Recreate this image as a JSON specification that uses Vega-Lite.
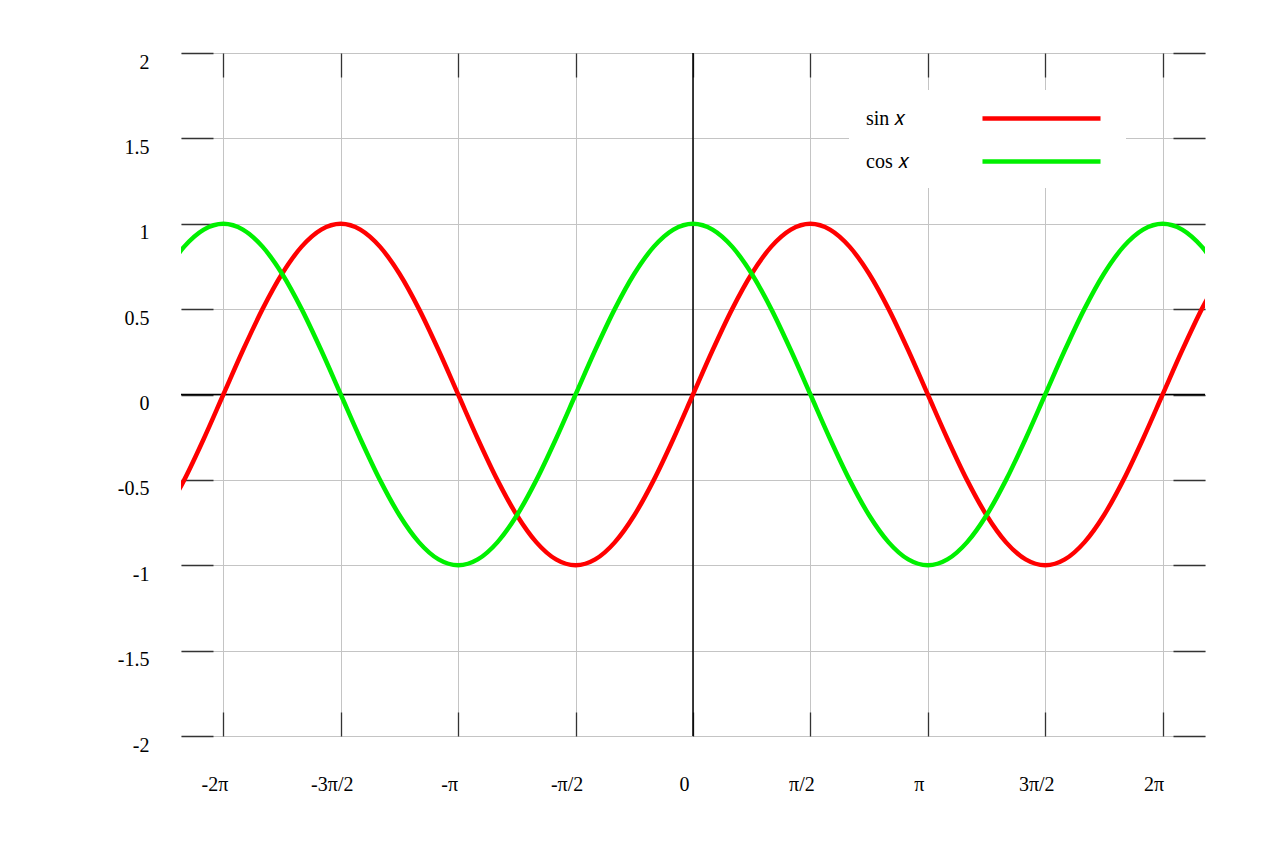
{
  "$schema": "https://vega.github.io/schema/vega-lite/v6.json",
  "width": 1024,
  "height": 683,
  "autosize": {"type": "none"},
  "padding": {"left": 181, "top": 53, "right": 75, "bottom": 117},
  "background": "white",
  "data": {
    "values": [
      {"x": -7.0686, "sin x": -0.7071, "cos x": 0.7071},
      {"x": -6.8068, "sin x": -0.5, "cos x": 0.866},
      {"x": -6.545, "sin x": -0.2588, "cos x": 0.9659},
      {"x": -6.2832, "sin x": 0, "cos x": 1},
      {"x": -6.0214, "sin x": 0.2588, "cos x": 0.9659},
      {"x": -5.7596, "sin x": 0.5, "cos x": 0.866},
      {"x": -5.4978, "sin x": 0.7071, "cos x": 0.7071},
      {"x": -5.236, "sin x": 0.866, "cos x": 0.5},
      {"x": -4.9742, "sin x": 0.9659, "cos x": 0.2588},
      {"x": -4.7124, "sin x": 1, "cos x": 0},
      {"x": -4.4506, "sin x": 0.9659, "cos x": -0.2588},
      {"x": -4.1888, "sin x": 0.866, "cos x": -0.5},
      {"x": -3.927, "sin x": 0.7071, "cos x": -0.7071},
      {"x": -3.6652, "sin x": 0.5, "cos x": -0.866},
      {"x": -3.4034, "sin x": 0.2588, "cos x": -0.9659},
      {"x": -3.1416, "sin x": 0, "cos x": -1},
      {"x": -2.8798, "sin x": -0.2588, "cos x": -0.9659},
      {"x": -2.618, "sin x": -0.5, "cos x": -0.866},
      {"x": -2.3562, "sin x": -0.7071, "cos x": -0.7071},
      {"x": -2.0944, "sin x": -0.866, "cos x": -0.5},
      {"x": -1.8326, "sin x": -0.9659, "cos x": -0.2588},
      {"x": -1.5708, "sin x": -1, "cos x": 0},
      {"x": -1.309, "sin x": -0.9659, "cos x": 0.2588},
      {"x": -1.0472, "sin x": -0.866, "cos x": 0.5},
      {"x": -0.7854, "sin x": -0.7071, "cos x": 0.7071},
      {"x": -0.5236, "sin x": -0.5, "cos x": 0.866},
      {"x": -0.2618, "sin x": -0.2588, "cos x": 0.9659},
      {"x": 0, "sin x": 0, "cos x": 1},
      {"x": 0.2618, "sin x": 0.2588, "cos x": 0.9659},
      {"x": 0.5236, "sin x": 0.5, "cos x": 0.866},
      {"x": 0.7854, "sin x": 0.7071, "cos x": 0.7071},
      {"x": 1.0472, "sin x": 0.866, "cos x": 0.5},
      {"x": 1.309, "sin x": 0.9659, "cos x": 0.2588},
      {"x": 1.5708, "sin x": 1, "cos x": 0},
      {"x": 1.8326, "sin x": 0.9659, "cos x": -0.2588},
      {"x": 2.0944, "sin x": 0.866, "cos x": -0.5},
      {"x": 2.3562, "sin x": 0.7071, "cos x": -0.7071},
      {"x": 2.618, "sin x": 0.5, "cos x": -0.866},
      {"x": 2.8798, "sin x": 0.2588, "cos x": -0.9659},
      {"x": 3.1416, "sin x": 0, "cos x": -1},
      {"x": 3.4034, "sin x": -0.2588, "cos x": -0.9659},
      {"x": 3.6652, "sin x": -0.5, "cos x": -0.866},
      {"x": 3.927, "sin x": -0.7071, "cos x": -0.7071},
      {"x": 4.1888, "sin x": -0.866, "cos x": -0.5},
      {"x": 4.4506, "sin x": -0.9659, "cos x": -0.2588},
      {"x": 4.7124, "sin x": -1, "cos x": 0},
      {"x": 4.9742, "sin x": -0.9659, "cos x": 0.2588},
      {"x": 5.236, "sin x": -0.866, "cos x": 0.5},
      {"x": 5.4978, "sin x": -0.7071, "cos x": 0.7071},
      {"x": 5.7596, "sin x": -0.5, "cos x": 0.866},
      {"x": 6.0214, "sin x": -0.2588, "cos x": 0.9659},
      {"x": 6.2832, "sin x": 0, "cos x": 1},
      {"x": 6.545, "sin x": 0.2588, "cos x": 0.9659},
      {"x": 6.8068, "sin x": 0.5, "cos x": 0.866},
      {"x": 7.0686, "sin x": 0.7071, "cos x": 0.7071}
    ]
  },
  "layer": [
    {
      "data": {"values": [{}]},
      "mark": {"type": "rule", "color": "black", "strokeWidth": 1.5},
      "encoding": {
        "x": {
          "datum": 0,
          "type": "quantitative",
          "scale": {"domain": [-6.85, 6.85], "nice": false, "zero": false},
          "axis": {
            "orient": "top",
            "values": [-6.2832, -4.7124, -3.1416, -1.5708, 0, 1.5708, 3.1416, 4.7124, 6.2832],
            "grid": false, "labels": false, "domain": false, "title": null,
            "tickSize": -24, "tickColor": "#333333", "tickWidth": 1.3
          }
        },
        "y": {
          "datum": -2,
          "type": "quantitative",
          "scale": {"domain": [-2, 2], "nice": false, "zero": false},
          "axis": {
            "orient": "right",
            "values": [-2, -1.5, -1, -0.5, 0, 0.5, 1, 1.5, 2],
            "grid": false, "labels": false, "domain": false, "title": null,
            "tickSize": -32, "tickColor": "#333333", "tickWidth": 1.3
          }
        },
        "y2": {"datum": 2}
      }
    },
    {
      "data": {"values": [{}]},
      "mark": {"type": "rule", "color": "black", "strokeWidth": 1.5},
      "encoding": {
        "y": {"datum": 0, "type": "quantitative", "scale": {"domain": [-2, 2], "nice": false, "zero": false}, "axis": null},
        "x": {"datum": -6.85, "type": "quantitative", "scale": {"domain": [-6.85, 6.85], "nice": false, "zero": false}, "axis": null},
        "x2": {"datum": 6.85}
      }
    },
    {
      "transform": [{"fold": ["sin x", "cos x"], "as": ["curve", "value"]}],
      "mark": {"type": "line", "strokeWidth": 4.5, "interpolate": "monotone", "clip": true},
      "encoding": {
        "x": {
          "field": "x",
          "type": "quantitative",
          "scale": {"domain": [-6.85, 6.85], "nice": false, "zero": false},
          "axis": {
            "orient": "bottom",
            "values": [-6.2832, -4.7124, -3.1416, -1.5708, 0, 1.5708, 3.1416, 4.7124, 6.2832],
            "labelExpr": "['-2π','-3π/2','-π','-π/2','0','π/2','π','3π/2','2π'][round(datum.value / (PI / 2)) + 4]",
            "grid": true, "gridColor": "#c4c4c4", "gridWidth": 1,
            "domain": false, "title": null,
            "tickSize": -24, "tickColor": "#333333", "tickWidth": 1.3,
            "labelFont": "Liberation Serif", "labelFontSize": 20, "labelColor": "black",
            "labelPadding": 62, "labelOffset": -9, "labelBaseline": "top"
          }
        },
        "y": {
          "field": "value",
          "type": "quantitative",
          "scale": {"domain": [-2, 2], "nice": false, "zero": false},
          "axis": {
            "orient": "left",
            "values": [-2, -1.5, -1, -0.5, 0, 0.5, 1, 1.5, 2],
            "labelExpr": "'' + datum.value",
            "grid": true, "gridColor": "#c4c4c4", "gridWidth": 1,
            "domain": false, "title": null,
            "tickSize": -32, "tickColor": "#333333", "tickWidth": 1.3,
            "labelFont": "Liberation Serif", "labelFontSize": 20, "labelColor": "black",
            "labelPadding": 64, "labelOffset": 9, "labelBaseline": "middle"
          }
        },
        "color": {
          "field": "curve",
          "type": "nominal",
          "scale": {"domain": ["sin x", "cos x"], "range": ["#ff0000", "#00f000"]},
          "legend": {
            "orient": "none",
            "legendX": 668,
            "legendY": 37,
            "title": null,
            "labelExpr": "datum.label == 'sin x' ? 'sin 𝑥' : 'cos 𝑥'",
            "symbolType": "M-6,0L6,0",
            "symbolSize": 387,
            "symbolStrokeWidth": 4.5,
            "symbolOffset": 164,
            "labelFont": "Liberation Serif",
            "labelFontSize": 20,
            "labelColor": "black",
            "labelOffset": -188,
            "rowPadding": 20,
            "fillColor": "white",
            "padding": 16
          }
        }
      }
    }
  ],
  "resolve": {"axis": {"x": "independent", "y": "independent"}},
  "config": {
    "view": {"stroke": null},
    "axis": {"labelFont": "Liberation Serif"}
  }
}
